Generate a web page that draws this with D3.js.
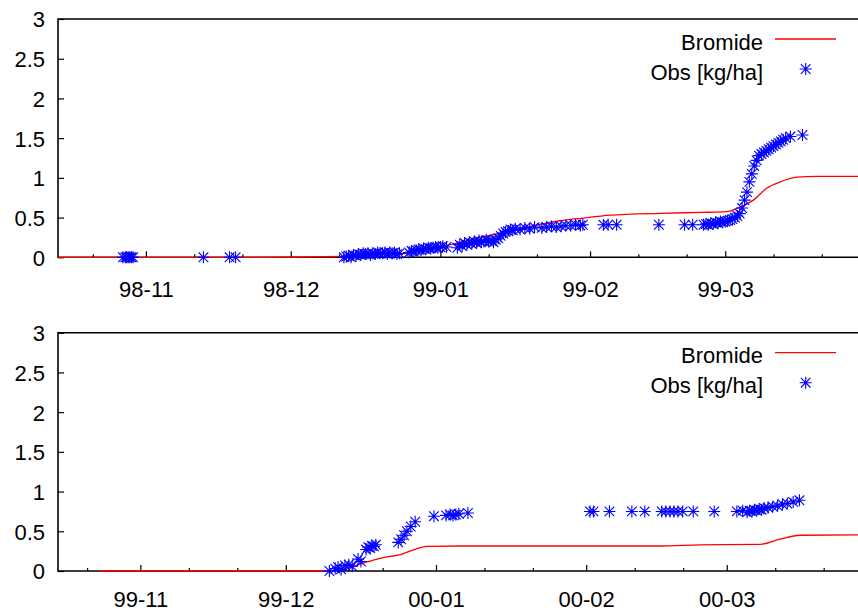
<!DOCTYPE html>
<html>
<head>
<meta charset="utf-8">
<script src="https://cdn.jsdelivr.net/npm/d3@7"></script>
<style>
  body { margin: 0; background: #fff; }
  svg { display: block; }
  text { font-family: "Liberation Sans", Arial, sans-serif; font-size: 22px; fill: #000; }
</style>
</head>
<body>
<svg id="chart" width="858" height="612"></svg>
<script>
// ---- Season 1998/99 ----
const topDomain = ["1998-10-13 19", "1999-03-28 12"];
const topMonthTicks = ["1998-11-01 00", "1998-12-01 00", "1999-01-01 00", "1999-02-01 00", "1999-03-01 00"];
const topMonthLabels = ["98-11", "98-12", "99-01", "99-02", "99-03"];

const topModelDates = [
  "1998-10-13 19", "1998-11-24 16", "1998-12-12 00", "1998-12-19 12", "1998-12-25 02",
  "1999-01-01 00", "1999-01-09 06", "1999-01-16 02", "1999-01-25 18", "1999-01-30 00",
  "1999-02-05 06", "1999-02-15 14", "1999-02-23 22", "1999-03-01 08", "1999-03-03 10",
  "1999-03-06 20", "1999-03-09 14", "1999-03-12 10", "1999-03-15 20", "1999-03-20 00",
  "1999-03-28 12"
];
const topModel = [
  0.0, 0.0, 0.01, 0.03, 0.05,
  0.13, 0.25, 0.34, 0.46, 0.49,
  0.53, 0.554, 0.565, 0.574, 0.617,
  0.72, 0.87, 0.95, 1.01, 1.02,
  1.02
];

const topObsDates = [
  "1998-10-27 06", "1998-10-27 18", "1998-10-28 00", "1998-10-28 08", "1998-10-28 16", "1998-10-29 00", "1998-10-29 08",
  "1998-11-12 22", "1998-11-18 08", "1998-11-19 14",
  "1998-12-12 00", "1998-12-12 12", "1998-12-13 00", "1998-12-13 12", "1998-12-14 00", "1998-12-14 12",
  "1998-12-15 00", "1998-12-15 12", "1998-12-16 00", "1998-12-16 12", "1998-12-17 00", "1998-12-17 12",
  "1998-12-18 00", "1998-12-18 12", "1998-12-19 00", "1998-12-19 12", "1998-12-20 00", "1998-12-20 12",
  "1998-12-21 00", "1998-12-21 12", "1998-12-22 00", "1998-12-22 12", "1998-12-23 00", "1998-12-23 12",
  "1998-12-25 12", "1998-12-26 00", "1998-12-26 12", "1998-12-27 00", "1998-12-27 12", "1998-12-28 00",
  "1998-12-28 12", "1998-12-29 00", "1998-12-29 12", "1998-12-30 00", "1998-12-30 12", "1998-12-31 00",
  "1998-12-31 12", "1999-01-01 00", "1999-01-01 12", "1999-01-02 06",
  "1999-01-04 12", "1999-01-05 00", "1999-01-05 12", "1999-01-06 00", "1999-01-06 12", "1999-01-07 00",
  "1999-01-07 12", "1999-01-08 00", "1999-01-08 12", "1999-01-09 00", "1999-01-09 12", "1999-01-10 00",
  "1999-01-10 12", "1999-01-11 00", "1999-01-11 12", "1999-01-12 00", "1999-01-12 12", "1999-01-13 00",
  "1999-01-13 12", "1999-01-14 00", "1999-01-14 12", "1999-01-15 00", "1999-01-15 12", "1999-01-16 00",
  "1999-01-16 12", "1999-01-17 12", "1999-01-18 12", "1999-01-19 12", "1999-01-20 12", "1999-01-22 00",
  "1999-01-23 00", "1999-01-24 00", "1999-01-25 00", "1999-01-26 00", "1999-01-27 00", "1999-01-28 00",
  "1999-01-29 00", "1999-01-30 00", "1999-01-30 12",
  "1999-02-03 18", "1999-02-04 18", "1999-02-06 12", "1999-02-15 06", "1999-02-20 14", "1999-02-22 06",
  "1999-02-24 12", "1999-02-25 00", "1999-02-25 12", "1999-02-26 00", "1999-02-26 12", "1999-02-27 00",
  "1999-02-27 12", "1999-02-28 00", "1999-02-28 12", "1999-03-01 00", "1999-03-01 12", "1999-03-02 00",
  "1999-03-02 12", "1999-03-03 00", "1999-03-03 12", "1999-03-04 00",
  "1999-03-04 12", "1999-03-05 00", "1999-03-05 12", "1999-03-06 00", "1999-03-06 12", "1999-03-07 00",
  "1999-03-07 12", "1999-03-08 00", "1999-03-08 12", "1999-03-09 00", "1999-03-09 12", "1999-03-10 00",
  "1999-03-10 12", "1999-03-11 00", "1999-03-11 12", "1999-03-12 00", "1999-03-12 12", "1999-03-13 00",
  "1999-03-13 12", "1999-03-14 12", "1999-03-17 00"
];
const topObs = [
  0, 0, 0, 0, 0, 0, 0,
  0, 0, 0,
  0.00, 0.01, 0.02, 0.00, 0.03, 0.02,
  0.04, 0.03, 0.05, 0.04, 0.05, 0.03,
  0.05, 0.04, 0.06, 0.05, 0.05, 0.06,
  0.04, 0.06, 0.05, 0.06, 0.04, 0.05,
  0.06, 0.08, 0.07, 0.09, 0.10, 0.09,
  0.11, 0.10, 0.12, 0.11, 0.12, 0.13,
  0.12, 0.13, 0.14, 0.13,
  0.12, 0.16, 0.14, 0.18, 0.16, 0.19,
  0.17, 0.20, 0.18, 0.21, 0.19, 0.20,
  0.22, 0.20, 0.21, 0.19, 0.22, 0.24,
  0.27, 0.30, 0.32, 0.33, 0.35, 0.34,
  0.36, 0.35, 0.37, 0.36, 0.38, 0.37,
  0.38, 0.39, 0.38, 0.39, 0.40, 0.40,
  0.41, 0.40, 0.41,
  0.41, 0.41, 0.41, 0.41, 0.41, 0.41,
  0.41, 0.42, 0.41, 0.43, 0.42, 0.44,
  0.43, 0.45, 0.44, 0.45, 0.46, 0.47,
  0.48, 0.50, 0.52, 0.55,
  0.62, 0.72, 0.82, 0.95, 1.05, 1.15,
  1.22, 1.28, 1.30, 1.32, 1.34, 1.36,
  1.38, 1.40, 1.42, 1.44, 1.46, 1.48,
  1.50, 1.52, 1.54
];

// ---- Season 1999/2000 ----
const bottomDomain = ["1999-10-15 00", "2000-03-28 02"];
const bottomMonthTicks = ["1999-11-01 00", "1999-12-01 00", "2000-01-01 00", "2000-02-01 00", "2000-03-01 00"];
const bottomMonthLabels = ["99-11", "99-12", "00-01", "00-02", "00-03"];

const bottomModelDates = [
  "1999-10-23 18", "1999-12-08 16", "1999-12-13 14", "1999-12-17 00", "1999-12-20 10",
  "1999-12-25 08", "1999-12-27 08", "1999-12-30 02", "2000-01-06 14", "2000-02-16 06",
  "2000-02-24 12", "2000-03-07 22", "2000-03-12 00", "2000-03-16 02", "2000-03-28 02"
];
const bottomModel = [
  0.0, 0.0, 0.035, 0.10, 0.16,
  0.22, 0.265, 0.31, 0.315, 0.315,
  0.33, 0.335, 0.40, 0.45, 0.456
];

const bottomObsDates = [
  "1999-12-10 00", "1999-12-11 05", "1999-12-11 19", "1999-12-12 10", "1999-12-13 05", "1999-12-14 00",
  "1999-12-14 17", "1999-12-15 22", "1999-12-16 12", "1999-12-17 14", "1999-12-18 00", "1999-12-18 10",
  "1999-12-18 19", "1999-12-19 05", "1999-12-19 14",
  "1999-12-24 05", "1999-12-24 19", "1999-12-25 10", "1999-12-26 00", "1999-12-26 19", "1999-12-27 17",
  "1999-12-31 14", "2000-01-03 02", "2000-01-03 22", "2000-01-04 12", "2000-01-05 02", "2000-01-05 17",
  "2000-01-07 14",
  "2000-02-01 19", "2000-02-02 12", "2000-02-05 19", "2000-02-10 10", "2000-02-13 02", "2000-02-16 14",
  "2000-02-17 10", "2000-02-18 07", "2000-02-19 02", "2000-02-19 22", "2000-02-20 22", "2000-02-23 02",
  "2000-02-27 10", "2000-03-03 02", "2000-03-04 07",
  "2000-03-05 05", "2000-03-05 17", "2000-03-06 05", "2000-03-06 17", "2000-03-07 05", "2000-03-07 17",
  "2000-03-08 05", "2000-03-08 17", "2000-03-09 12", "2000-03-10 12", "2000-03-11 12", "2000-03-12 12",
  "2000-03-13 12", "2000-03-14 17", "2000-03-16 00"
];
const bottomObs = [
  0.00, 0.03, 0.05, 0.02, 0.07, 0.08,
  0.06, 0.15, 0.12, 0.27, 0.30, 0.29,
  0.32, 0.31, 0.33,
  0.36, 0.40, 0.45, 0.50, 0.56, 0.62,
  0.69, 0.70, 0.71, 0.70, 0.71, 0.72,
  0.73,
  0.75, 0.75, 0.75, 0.75, 0.75, 0.75,
  0.75, 0.75, 0.75, 0.75, 0.75, 0.75,
  0.75, 0.75, 0.76,
  0.74, 0.76, 0.75, 0.77, 0.76, 0.78,
  0.77, 0.79, 0.80, 0.81, 0.82, 0.84,
  0.85, 0.87, 0.89
];

const yTicks = [0, 0.5, 1, 1.5, 2, 2.5, 3];
const legendLabels = ["Bromide", "Obs [kg/ha]"];

// ---- drawing ----
const parse = d3.timeParse("%Y-%m-%d %H");
const svg = d3.select("#chart");
const LEFT = 58, RIGHT = 858;

const panels = [
  { top: 19, bottom: 257.3, labelY: 39.5, domain: topDomain, months: topMonthTicks, labels: topMonthLabels,
    modelDates: topModelDates, model: topModel, obsDates: topObsDates, obs: topObs },
  { top: 332.7, bottom: 571, labelY: 36, domain: bottomDomain, months: bottomMonthTicks, labels: bottomMonthLabels,
    modelDates: bottomModelDates, model: bottomModel, obsDates: bottomObsDates, obs: bottomObs }
];

// gnuplot-style asterisk: a "+" overlaid with an "x"
function asterisk(cx, cy) {
  const a = 6, b = 4.8;
  return `M${cx - a},${cy}H${cx + a}M${cx},${cy - a}V${cy + a}` +
         `M${cx - b},${cy - b}L${cx + b},${cy + b}M${cx - b},${cy + b}L${cx + b},${cy - b}`;
}

panels.forEach(p => {
  const x = d3.scaleTime().domain(p.domain.map(parse)).range([LEFT, RIGHT]);
  const y = d3.scaleLinear().domain([0, 3]).range([p.bottom, p.top]);
  const g = svg.append("g");

  // y axis: inward ticks, labels on the left
  const yAxis = d3.axisLeft(y).tickValues(yTicks).tickSizeInner(-6).tickSizeOuter(0)
    .tickPadding(13).tickFormat(d3.format("~g"));
  const ya = g.append("g").attr("transform", `translate(${LEFT},0)`).call(yAxis);
  ya.select(".domain").remove();
  ya.selectAll("line").attr("stroke", "#000").attr("stroke-width", 1.2);
  ya.selectAll("text").attr("font-size", 22).attr("font-family", "Liberation Sans, Arial, sans-serif")
    .attr("dy", "0.36em");

  // x axis: month ticks (major) plus the 11th and 21st of each month (minor)
  const majors = p.months.map(parse);
  const [d0, d1] = x.domain();
  const minors = [];
  d3.timeMonth.range(d3.timeMonth.floor(d0), d1).forEach(m => {
    [10, 20].forEach(off => {
      const t = d3.timeDay.offset(m, off);
      if (t > d0 && t < d1) minors.push(t);
    });
  });
  const xMinor = d3.axisBottom(x).tickValues(minors).tickSizeInner(-3).tickSizeOuter(0).tickFormat("");
  const xm = g.append("g").attr("transform", `translate(0,${p.bottom})`).call(xMinor);
  xm.select(".domain").remove();
  xm.selectAll("line").attr("stroke", "#000").attr("stroke-width", 1.2);

  const xMajor = d3.axisBottom(x).tickValues(majors).tickSizeInner(-6).tickSizeOuter(0)
    .tickFormat((d, i) => p.labels[i]);
  const xa = g.append("g").attr("transform", `translate(0,${p.bottom})`).call(xMajor);
  xa.select(".domain").remove();
  xa.selectAll("line").attr("stroke", "#000").attr("stroke-width", 1.2);
  xa.selectAll("text").attr("font-size", 22).attr("font-family", "Liberation Sans, Arial, sans-serif")
    .attr("y", p.labelY).attr("dy", 0);

  // border: left, top and bottom edges
  g.append("path")
    .attr("d", `M${RIGHT + 10},${p.top}H${LEFT}V${p.bottom}H${RIGHT + 10}`)
    .attr("fill", "none").attr("stroke", "#000").attr("stroke-width", 1.6);

  // simulated bromide
  const line = d3.line().x(d => x(d[0])).y(d => y(d[1])).curve(d3.curveMonotoneX);
  g.append("path")
    .datum(p.modelDates.map((s, i) => [parse(s), p.model[i]]))
    .attr("d", line).attr("fill", "none").attr("stroke", "#ff0000").attr("stroke-width", 1.3);

  // observations
  g.append("g").selectAll("path")
    .data(p.obsDates.map((s, i) => [parse(s), p.obs[i]]))
    .join("path")
    .attr("d", d => asterisk(x(d[0]), y(d[1])))
    .attr("fill", "none").attr("stroke", "#0000ff").attr("stroke-width", 1.1);

  // legend
  const lg = g.append("g");
  lg.append("text").attr("x", 763).attr("y", p.top + 30.5).attr("text-anchor", "end").text(legendLabels[0]);
  lg.append("line").attr("x1", 775).attr("x2", 836).attr("y1", p.top + 20).attr("y2", p.top + 20)
    .attr("stroke", "#ff0000").attr("stroke-width", 1.3);
  lg.append("text").attr("x", 763).attr("y", p.top + 60.5).attr("text-anchor", "end").text(legendLabels[1]);
  lg.append("path").attr("d", asterisk(805.7, p.top + 50))
    .attr("fill", "none").attr("stroke", "#0000ff").attr("stroke-width", 1.1);
});
</script>
</body>
</html>
